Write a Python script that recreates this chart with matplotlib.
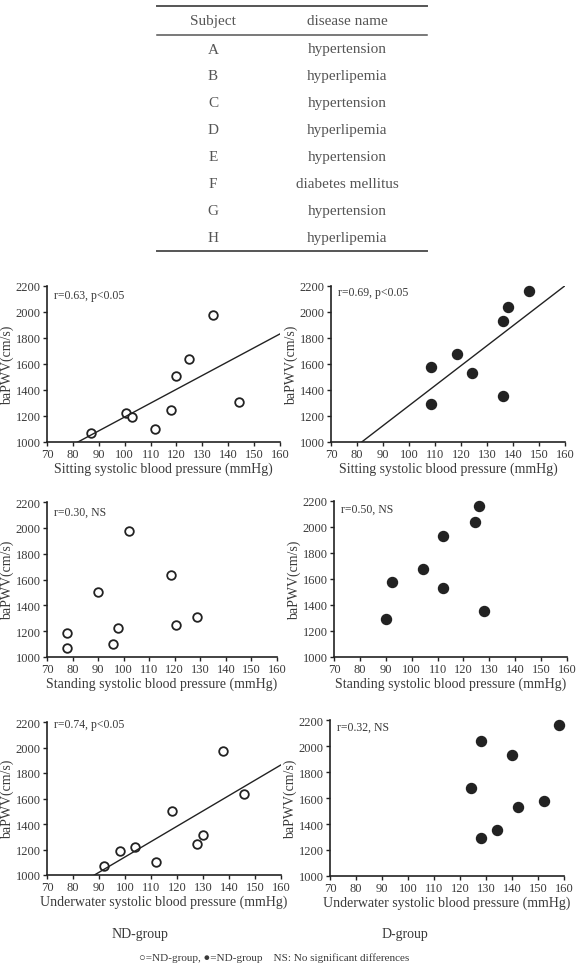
import numpy as np
import matplotlib
matplotlib.use("Agg")
import matplotlib.pyplot as plt
from matplotlib.lines import Line2D

plt.rcParams['font.family'] = ['Liberation Serif', 'DejaVu Sans']

# table
subjects = ['A', 'B', 'C', 'D', 'E', 'F', 'G', 'H']
diseases = ['hypertension', 'hyperlipemia', 'hypertension', 'hyperlipemia',
            'hypertension', 'diabetes mellitus', 'hypertension', 'hyperlipemia']

# ND-group (open circles)
nd_pwv = [1071, 1222, 1189, 1102, 1245, 1505, 1636, 1975, 1311]
nd_sit = [87, 100.6, 102.8, 111.9, 117.8, 120, 124.9, 134.1, 144]
nd_stand = [77.7, 97.9, 77.7, 95.9, 120.6, 89.9, 118.5, 102.2, 128.7]
nd_water = [92.1, 104.0, 97.9, 112.0, 127.7, 117.9, 145.6, 137.6, 129.9]

# D-group (filled circles)
d_pwv = [1574, 1292, 1674, 1533, 1933, 2041, 1351, 2159]
d_sit = [108.3, 108.3, 118.3, 124.4, 136.2, 138.1, 136.2, 146.1]
d_stand = [92.3, 90.0, 104.3, 112.2, 112.2, 124.4, 128.0, 125.9]
d_water = [152.3, 128.0, 124.3, 142.3, 140.1, 128.0, 134.4, 157.9]

stats = ['r=0.63, p<0.05', 'r=0.69, p<0.05', 'r=0.30, NS',
         'r=0.50, NS', 'r=0.74, p<0.05', 'r=0.32, NS']
xlabels = ['Sitting systolic blood pressure (mmHg)',
           'Standing systolic blood pressure (mmHg)',
           'Underwater systolic blood pressure (mmHg)']

W, H = 576, 970
fig = plt.figure(figsize=(W / 100, H / 100), dpi=100)
txt = '#3a3a3a'
ink = '#222222'

def fx(px):
    return px / W

def fy(py):
    return 1 - py / H

# ---- table ----
tl, tr = 157, 427
for py, lw in [(7, 1.4), (35.5, 1.1), (252, 1.4)]:
    fig.add_artist(Line2D([fx(tl), fx(tr)], [fy(py), fy(py)], color='#555555', lw=lw))
fig.text(fx(213), fy(21.5), 'Subject', ha='center', va='center', fontsize=11, color='#555555')
fig.text(fx(347), fy(21.5), 'disease name', ha='center', va='center', fontsize=11, color='#555555')
for i, (s, d) in enumerate(zip(subjects, diseases)):
    py = 50 + i * 26.9
    fig.text(fx(213), fy(py), s, ha='center', va='center', fontsize=11, color='#555555')
    fig.text(fx(347), fy(py), d, ha='center', va='center', fontsize=11, color='#555555')

# ---- scatter panels ----
# (left, right, top, bottom) in pixels
boxes = [(47, 280, 287, 443), (331, 565, 287, 443),
         (47, 277, 503, 658), (334, 567, 502, 658),
         (47, 281, 723, 876), (330, 564, 721, 877)]
xs = [nd_sit, d_sit, nd_stand, d_stand, nd_water, d_water]
ys = [nd_pwv, d_pwv] * 3
filled = [False, True] * 3
sig = [True, True, False, False, True, False]
stat_y = [0.94, 0.96, 0.94, 0.95, 0.99, 0.96]

for k in range(6):
    l, r, t, b = boxes[k]
    ax = fig.add_axes([fx(l), fy(b), fx(r) - fx(l), (b - t) / H])
    x = np.array(xs[k])
    y = np.array(ys[k])
    if filled[k]:
        ax.plot(x, y, 'o', ms=7.2, mfc=ink, mec=ink, clip_on=False)
    else:
        ax.plot(x, y, 'o', ms=6.2, mfc='white', mec=ink, mew=1.3, clip_on=False)
    if sig[k]:
        slope, icpt = np.polyfit(x, y, 1)
        xx = np.array([70, 160])
        ax.plot(xx, slope * xx + icpt, color=ink, lw=1.0)
    ax.set_xlim(70, 160)
    ax.set_ylim(1000, 2200)
    ax.set_xticks(np.arange(70, 161, 10))
    ax.set_yticks(np.arange(1000, 2201, 200))
    for sp in ['top', 'right']:
        ax.spines[sp].set_visible(False)
    for sp in ['left', 'bottom']:
        ax.spines[sp].set_color(ink)
        ax.spines[sp].set_linewidth(1.2)
    ax.tick_params(direction='out', length=3, width=1, color=ink,
                   labelsize=9, labelcolor=txt, pad=1.5)
    ax.set_ylabel('baPWV(cm/s)', fontsize=10, color=txt, labelpad=1)
    ax.set_xlabel(xlabels[k // 2], fontsize=10, color=txt, labelpad=1)
    ax.text(0.03, stat_y[k], stats[k], transform=ax.transAxes,
            ha='left', va='center', fontsize=8.5, color=txt)

fig.text(fx(140), fy(935), 'ND-group', ha='center', va='center', fontsize=10, color=txt)
fig.text(fx(405), fy(935), 'D-group', ha='center', va='center', fontsize=10, color=txt)
fig.text(fx(274), fy(958), '\u25cb=ND-group, \u25cf=ND-group    NS: No significant differences',
         ha='center', va='center', fontsize=8, color=txt)

fig.savefig('out.png', dpi=100)
